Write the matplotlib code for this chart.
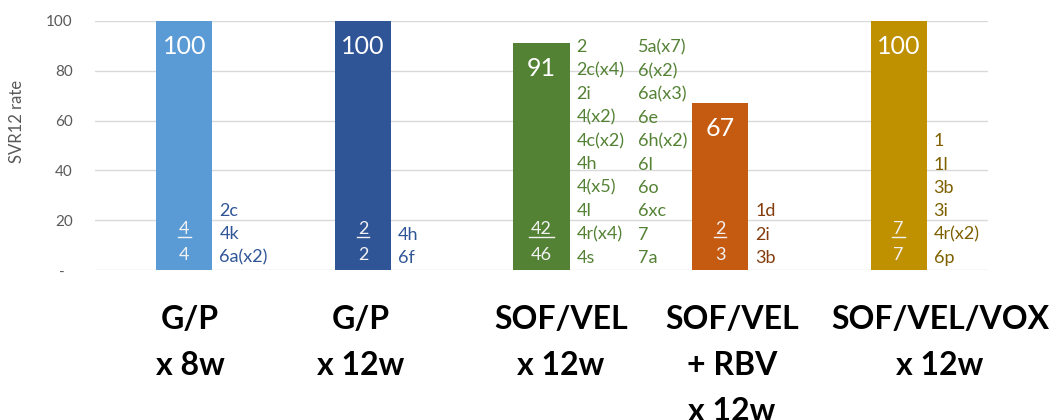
import matplotlib.pyplot as plt
from matplotlib.transforms import ScaledTranslation

plt.rcParams['font.family'] = ['Lato', 'DejaVu Sans']

# SVR12 by regimen
regimens = ['G/P\nx 8w', 'G/P\nx 12w', 'SOF/VEL\nx 12w', 'SOF/VEL\n+ RBV\nx 12w', 'SOF/VEL/VOX\nx 12w']
svr_rate = [100, 100, 91, 67, 100]
n_svr = [4, 2, 42, 2, 7]
n_total = [4, 2, 46, 3, 7]
genotypes = [
    ['2c', '4k', '6a(x2)'],
    ['4h', '6f'],
    ['2', '2c(x4)', '2i', '4(x2)', '4c(x2)', '4h', '4(x5)', '4l', '4r(x4)', '4s',
     '5a(x7)', '6(x2)', '6a(x3)', '6e', '6h(x2)', '6l', '6o', '6xc', '7', '7a'],
    ['1d', '2i', '3b'],
    ['1', '1l', '3b', '3i', '4r(x2)', '6p'],
]

bar_colors = ['#5B9BD5', '#2F5597', '#548235', '#C55A11', '#BF9000']
text_colors = ['#2F5597', '#2F5597', '#548235', '#843C0C', '#7F6000']
label_x = [190, 361, 561, 732, 940]  # pixel centres of the regimen labels

W, H = 1055, 420
fig = plt.figure(figsize=(W / 100, H / 100), dpi=100)
ax = fig.add_axes([95 / W, 150 / H, 893 / W, 249 / H])

width = 0.314
x = range(len(svr_rate))
ax.bar(x, svr_rate, width, color=bar_colors, zorder=2)

ax.set_xlim(-0.5, 4.5)
ax.set_ylim(0, 100)
ax.set_yticks([0, 20, 40, 60, 80, 100])
ax.set_yticklabels(['-  ', '20', '40', '60', '80', '100'])
ax.tick_params(axis='y', length=0, pad=16, labelsize=11, labelcolor='#595959')
ax.set_xticks([])
ax.grid(axis='y', color='#D9D9D9', lw=1, zorder=0)
ax.set_axisbelow(True)
for s in ax.spines.values():
    s.set_visible(False)

fig.text(17 / W, 1 - 121 / H, 'SVR12 rate', rotation=90, ha='center', va='center',
         fontsize=12, color='#595959')

for i, v in enumerate(svr_rate):
    # rate at top of bar
    ax.annotate(str(v), (i, v), xytext=(0, -18), textcoords='offset points',
                ha='center', va='center', fontsize=18, color='white')
    # n / N at bottom of bar, numerator underlined
    ax.annotate(str(n_svr[i]), (i, 0), xytext=(0, 26), textcoords='offset points',
                ha='center', va='baseline', fontsize=13, color='#F2F2F2')
    ax.annotate(str(n_total[i]), (i, 0), xytext=(0, 7.5), textcoords='offset points',
                ha='center', va='baseline', fontsize=13, color='#F2F2F2')
    uw = 0.035 * len(str(n_svr[i]))
    ln = ax.plot([i - uw, i + uw], [0, 0], color='#F2F2F2', lw=1, zorder=3)[0]
    ln.set_transform(ax.transData + ScaledTranslation(0, 23.5 / 72, fig.dpi_scale_trans))

    # genotype list to the right of the bar
    g = genotypes[i]
    cols = [g[:10], g[10:]] if len(g) > 10 else [g]
    for c, col in enumerate(cols):
        ax.annotate('\n'.join(col), (i + width / 2, 0), xytext=(5 + c * 44, 3),
                    textcoords='offset points', ha='left', va='bottom',
                    fontsize=13, color=text_colors[i], linespacing=1.56,
                    annotation_clip=False)

for i, lab in enumerate(regimens):
    fig.text(label_x[i] / W, 1 - 305 / H, lab, ha='center', va='top',
             fontsize=23, fontweight='bold', color='black', linespacing=1.7,
             multialignment='center')

fig.savefig('out.png', dpi=100)
